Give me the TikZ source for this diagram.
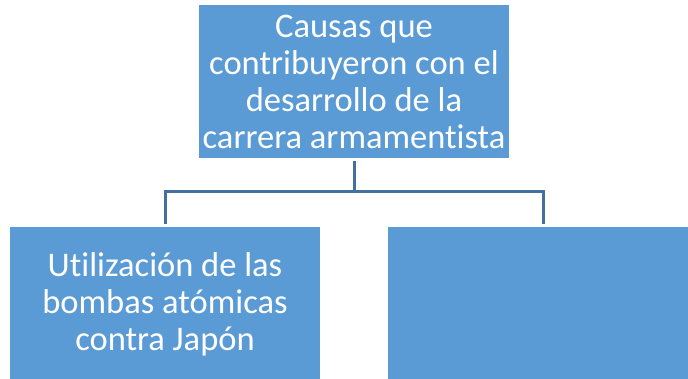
\documentclass[tikz,border=0pt]{standalone}
\usepackage{xcolor}
\usepackage{fontspec}
\setmainfont{Carlito}[Ligatures=NoCommon]
\usepackage{tikz}
\definecolor{boxblue}{HTML}{5B9BD5}
\definecolor{lineblue}{HTML}{41719C}
\tikzset{
  causebox/.style={fill=boxblue, text=white, align=center, inner sep=0pt,
    font=\fontsize{34.5}{37}\selectfont},
  linkline/.style={lineblue, line width=3}
}

\begin{document}
\begin{tikzpicture}[x=1pt,y=1pt]
    \useasboundingbox (0,0) rectangle (688,-379);
    \node[causebox, minimum width=310, minimum height=153] (top) at (354,-81.5)
      {Causas que\\contribuyeron con el\\desarrollo de la\\carrera armamentista};
    \node[causebox, minimum width=310, minimum height=154] (left) at (165,-304)
      {Utilización de las\\bombas atómicas\\contra Japón};
    \node[causebox, minimum width=310, minimum height=154] (right) at (543,-304) {};
    \coordinate (mid) at (354,-192);
    \draw[linkline] ([yshift=-3]top.south) -- (mid);
    \draw[linkline] (mid) -| ([yshift=3]left.north);
    \draw[linkline] (mid) -| ([yshift=3]right.north);
\end{tikzpicture}
\end{document}
